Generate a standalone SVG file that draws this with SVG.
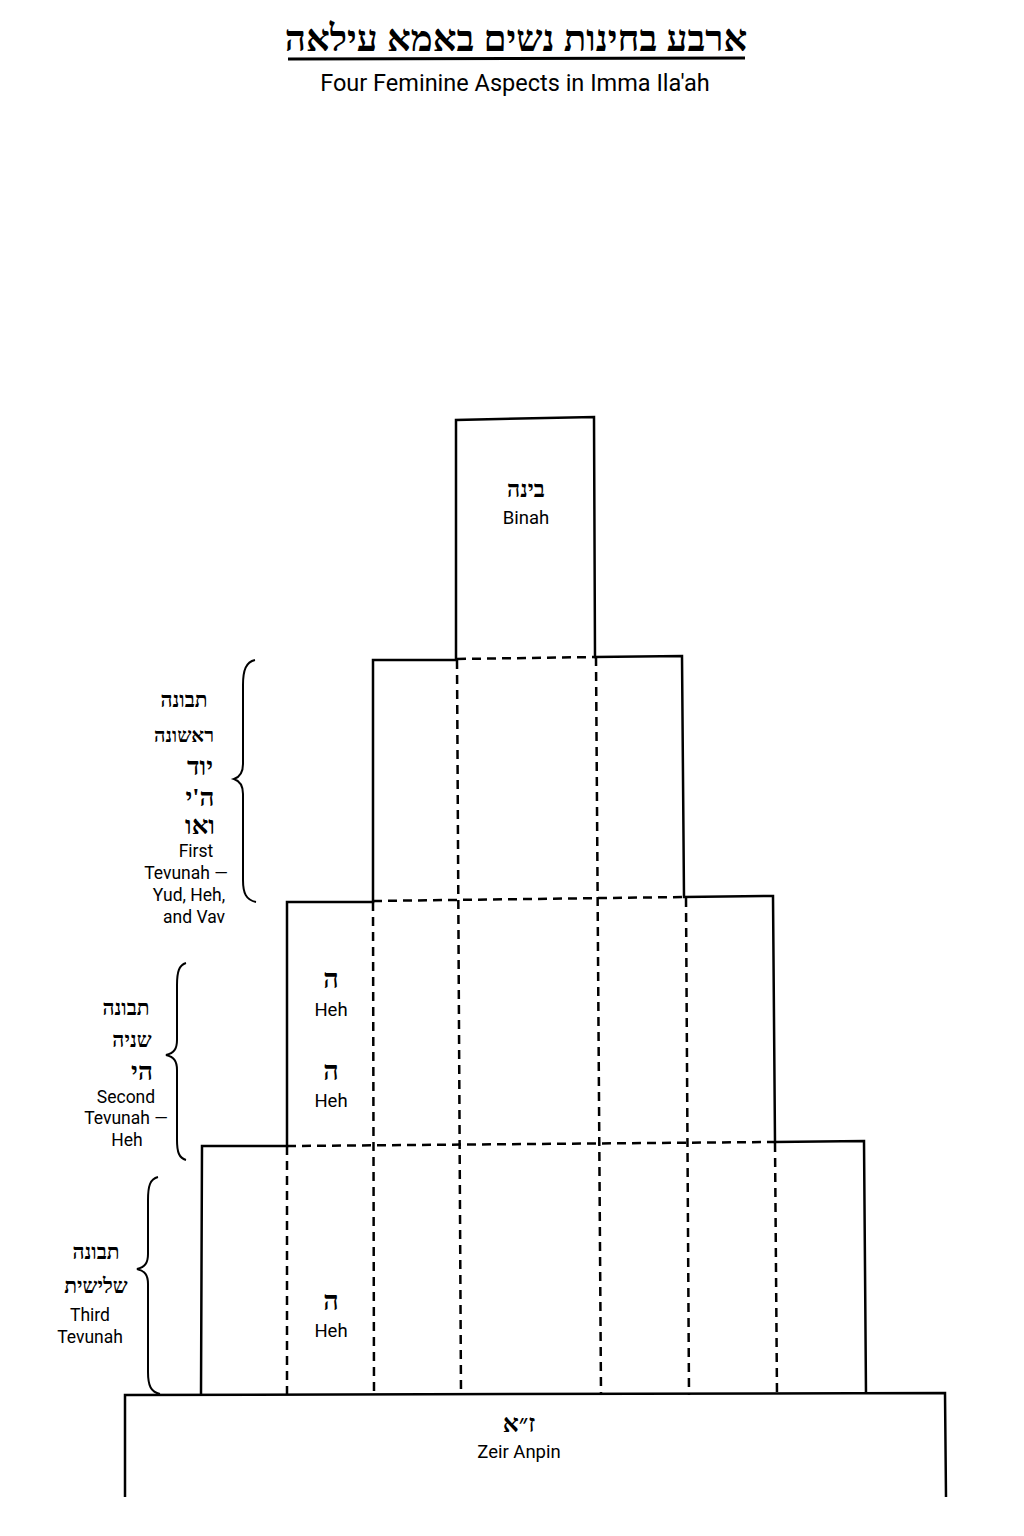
<svg xmlns="http://www.w3.org/2000/svg" width="1024" height="1536" viewBox="0 0 1024 1536">
<style>
.solid{fill:none;stroke:#000;stroke-width:2.5;stroke-linejoin:miter}
.dash{fill:none;stroke:#000;stroke-width:2.5;stroke-dasharray:9 6}
.brace{fill:none;stroke:#000;stroke-width:2}
.he{font-family:"Liberation Serif","DejaVu Sans",serif;font-weight:bold;fill:#000;text-anchor:middle}
.en{font-family:Roboto,"Liberation Sans",sans-serif;fill:#000;text-anchor:middle}
.box{font-size:18.5px}
.side{font-size:17.5px}
</style>
<rect width="1024" height="1536" fill="#fff"/>
<g id="title">
<text class="he" x="516" y="51" font-size="37" direction="rtl">ארבע בחינות נשים באמא עילאה</text>
<line x1="288" y1="59" x2="745" y2="58" stroke="#000" stroke-width="3"/>
<text class="en" x="515" y="91" font-size="23.5">Four Feminine Aspects in Imma Ila'ah</text>
</g>
<g id="connectors">
<polyline class="solid" points="201,1395 202,1146 287,1146 287,902 373,902 373,660 456,660 456,420 594,417 595,657 682,656 684,897 773,896 775,1142 864,1141 866,1394"/>
<line class="dash" x1="457" y1="659" x2="595" y2="657"/>
<line class="dash" x1="373" y1="901" x2="684" y2="897"/>
<line class="dash" x1="287" y1="1146" x2="775" y2="1142"/>
<line class="dash" x1="457" y1="660" x2="461" y2="1395"/>
<line class="dash" x1="596" y1="657" x2="601" y2="1395"/>
<line class="dash" x1="373" y1="902" x2="374" y2="1395"/>
<line class="dash" x1="686" y1="898" x2="689" y2="1395"/>
<line class="dash" x1="287" y1="1146" x2="287" y2="1395"/>
<line class="dash" x1="775" y1="1143" x2="777" y2="1395"/>
</g>
<g id="binah">
<text class="he" x="526" y="497" font-size="23" direction="rtl">בינה</text>
<text class="en box" x="526" y="524">Binah</text>
</g>
<g id="heh1">
<text class="he" x="331" y="988" font-size="27" direction="rtl">ה</text>
<text class="en box" x="331" y="1016">Heh</text>
</g>
<g id="heh2">
<text class="he" x="331" y="1080" font-size="27" direction="rtl">ה</text>
<text class="en box" x="331" y="1107">Heh</text>
</g>
<g id="heh3">
<text class="he" x="331" y="1310" font-size="27" direction="rtl">ה</text>
<text class="en box" x="331" y="1337">Heh</text>
</g>
<g id="zeir-anpin">
<polyline class="solid" points="125,1497 125,1395 945,1393 946,1497"/>
<text class="he" x="519" y="1432" font-size="25" direction="rtl">ז״א</text>
<text class="en box" x="519" y="1458">Zeir Anpin</text>
</g>
<g id="first-tevunah">
<path class="brace" d="M255,660 C246,662 243,670 243,685 L243,764 C243,773 240,777 234,779 C240,781 243,785 243,794 L243,880 C243,893 246,900 256,902"/>
<text class="he" x="184" y="707" font-size="21" direction="rtl">תבונה</text>
<text class="he" x="184" y="742" font-size="20" direction="rtl">ראשונה</text>
<text class="he" x="200" y="775" font-size="26" direction="rtl">יוד</text>
<text class="he" x="200" y="806" font-size="26" direction="rtl">ה'י</text>
<text class="he" x="200" y="834" font-size="26" direction="rtl">ואו</text>
<text class="en side" x="196" y="857">First</text>
<text class="en side" x="186" y="879">Tevunah —</text>
<text class="en side" x="189" y="901">Yud, Heh,</text>
<text class="en side" x="194" y="923">and Vav</text>
</g>
<g id="second-tevunah">
<path class="brace" d="M186,963 C179,965 177,972 177,985 L177,1040 C177,1049 174,1053 166,1055 C174,1057 177,1061 177,1070 L177,1140 C177,1152 179,1158 186,1160"/>
<text class="he" x="126" y="1015" font-size="21" direction="rtl">תבונה</text>
<text class="he" x="132" y="1047" font-size="21" direction="rtl">שניה</text>
<text class="he" x="142" y="1080" font-size="26" direction="rtl">הי</text>
<text class="en side" x="126" y="1103">Second</text>
<text class="en side" x="126" y="1124">Tevunah —</text>
<text class="en side" x="127" y="1146">Heh</text>
</g>
<g id="third-tevunah">
<path class="brace" d="M158,1177 C150,1179 148,1186 148,1200 L148,1254 C148,1263 145,1267 137,1269 C145,1271 148,1275 148,1284 L148,1372 C148,1386 151,1392 160,1394"/>
<text class="he" x="96" y="1259" font-size="21" direction="rtl">תבונה</text>
<text class="he" x="96" y="1293" font-size="21" direction="rtl">שלישית</text>
<text class="en side" x="90" y="1321">Third</text>
<text class="en side" x="90" y="1343">Tevunah</text>
</g>
</svg>
